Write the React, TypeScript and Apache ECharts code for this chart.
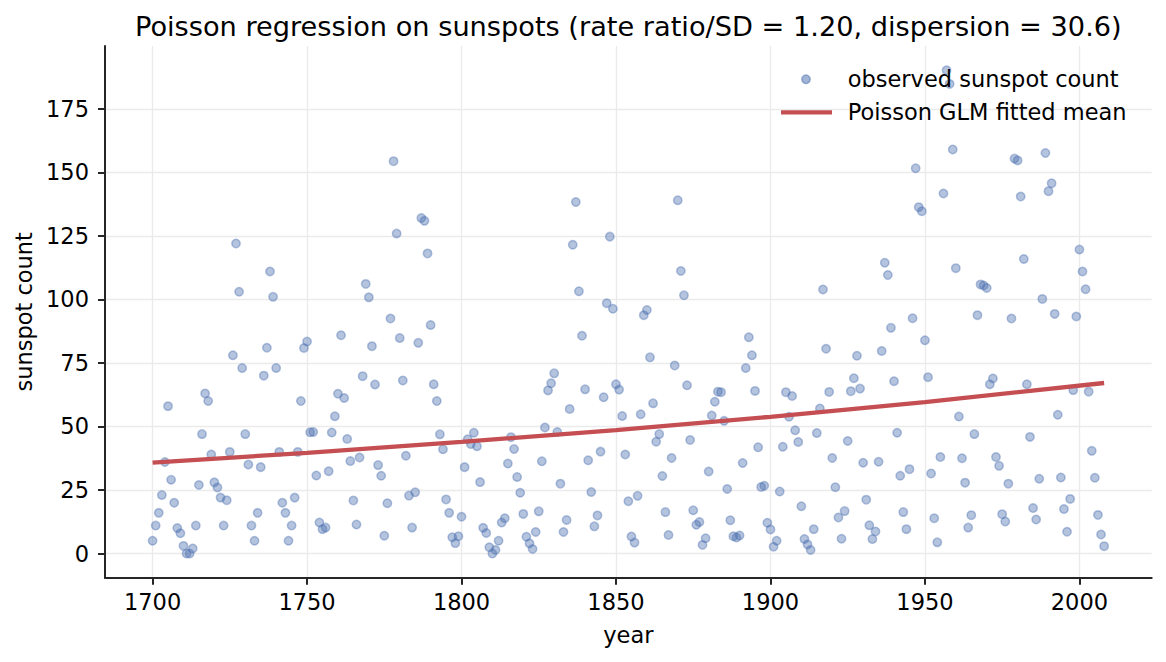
import React, { useEffect, useRef } from "react";
import * as echarts from "echarts";

// Yearly mean sunspot numbers, one array per century (first year listed alongside)
const FIRST_YEAR = 1700;
const counts1700s = [
  5, 11, 16, 23, 36, 58, 29, 20, 10, 8, 3, 0, 0, 2, 11, 27, 47, 63, 60, 39,
  28, 26, 22, 11, 21, 40, 78, 122, 103, 73, 47, 35, 11, 5, 16, 34, 70, 81, 111, 101,
  73, 40, 20, 16, 5, 11, 22, 40, 60, 80.9, 83.4, 47.7, 47.8, 30.7, 12.2, 9.6, 10.2, 32.4, 47.6, 54,
  62.9, 85.9, 61.2, 45.1, 36.4, 20.9, 11.4, 37.8, 69.8, 106.1, 100.8, 81.6, 66.5, 34.8, 30.6, 7, 19.8, 92.5, 154.4, 125.9,
  84.8, 68.1, 38.5, 22.8, 10.2, 24.1, 82.9, 132, 130.9, 118.1, 89.9, 66.6, 60, 46.9, 41, 21.3, 16, 6.4, 4.1, 6.8,
];
const counts1800s = [
  14.5, 34, 45, 43.1, 47.5, 42.2, 28.1, 10.1, 8.1, 2.5, 0, 1.4, 5, 12.2, 13.9, 35.4, 45.8, 41.1, 30.1, 23.9,
  15.6, 6.6, 4, 1.8, 8.5, 16.6, 36.3, 49.6, 64.2, 67, 70.9, 47.8, 27.5, 8.5, 13.2, 56.9, 121.5, 138.3, 103.2, 85.7,
  64.6, 36.7, 24.2, 10.7, 15, 40.1, 61.5, 98.5, 124.7, 96.3, 66.6, 64.5, 54.1, 39, 20.6, 6.7, 4.3, 22.7, 54.8, 93.8,
  95.8, 77.2, 59.1, 44, 47, 30.5, 16.3, 7.3, 37.6, 74, 139, 111.2, 101.6, 66.2, 44.7, 17, 11.3, 12.4, 3.4, 6,
  32.3, 54.3, 59.7, 63.7, 63.5, 52.2, 25.4, 13.1, 6.8, 6.3, 7.1, 35.6, 73, 85.1, 78, 64, 41.8, 26.2, 26.7, 12.1,
];
const counts1900s = [
  9.5, 2.7, 5, 24.4, 42, 63.5, 53.8, 62, 48.5, 43.9, 18.6, 5.7, 3.6, 1.4, 9.6, 47.4, 57.1, 103.9, 80.6, 63.6,
  37.6, 26.1, 14.2, 5.8, 16.7, 44.3, 63.9, 69, 77.8, 64.9, 35.7, 21.2, 11.1, 5.7, 8.7, 36.1, 79.7, 114.4, 109.6, 88.8,
  67.8, 47.5, 30.6, 16.3, 9.6, 33.2, 92.6, 151.6, 136.3, 134.7, 83.9, 69.4, 31.5, 13.9, 4.4, 38, 141.7, 190.2, 184.8, 159,
  112.3, 53.9, 37.5, 27.9, 10.2, 15.1, 47, 93.8, 105.9, 105.5, 104.5, 66.6, 68.9, 38, 34.5, 15.5, 12.6, 27.5, 92.5, 155.4,
  154.7, 140.5, 115.9, 66.6, 45.9, 17.9, 13.4, 29.4, 100.2, 157.6, 142.6, 145.7, 94.3, 54.6, 29.9, 17.5, 8.6, 21.5, 64.3, 93.3,
];
const counts2000s = [119.6, 111, 104, 63.7, 40.4, 29.8, 15.2, 7.5, 2.9];

// Poisson GLM fitted mean at selected years
const fittedYears = [1700, 1750, 1800, 1850, 1900, 1950, 2008];
const fittedMean = [35.8, 39.6, 43.9, 48.6, 53.8, 59.6, 67.1];

// Axis ticks
const xTicks = [1700, 1750, 1800, 1850, 1900, 1950, 2000];
const yTicks = [0, 25, 50, 75, 100, 125, 150, 175];

const TITLE = "Poisson regression on sunspots (rate ratio/SD = 1.20, dispersion = 30.6)";
const FONT = "'DejaVu Sans', 'Liberation Sans', sans-serif";
const POINT_COLOR = "rgba(76,114,176,0.52)";
const LINE_COLOR = "#C44E52";
const AXIS_COLOR = "#262626";
const GRID_COLOR = "#ebebeb";

export default function App() {
  const ref = useRef<HTMLDivElement>(null);

  useEffect(() => {
    document.body.style.margin = "0";
    if (!ref.current) return;
    const chart = echarts.init(ref.current, undefined, { renderer: "svg" });

    const counts = [...counts1700s, ...counts1800s, ...counts1900s, ...counts2000s];
    const observed = counts.map((v, i) => [FIRST_YEAR + i, v]);
    const fitted = fittedYears.map((y, i) => [y, fittedMean[i]]);

    const xMin = 1684.6;
    const xMax = 2023.4;
    const yMin = -9.51;
    const yMax = 199.71;

    const plotLeft = 105;
    const plotRight = 14.3;

    chart.setOption({
      animation: false,
      backgroundColor: "#ffffff",
      textStyle: { fontFamily: FONT },
      title: {
        text: TITLE,
        left: 130,
        top: 8,
        textStyle: {
          fontFamily: FONT,
          fontSize: 27.2,
          fontWeight: "normal",
          color: "#000000",
        },
      },
      grid: { left: plotLeft, right: plotRight, top: 46, bottom: 84.3, containLabel: false },
      xAxis: {
        type: "value",
        min: xMin,
        max: xMax,
        name: "year",
        nameLocation: "middle",
        nameGap: 46,
        nameTextStyle: { fontFamily: FONT, fontSize: 22.5, color: "#000000" },
        axisLine: { onZero: false, lineStyle: { color: AXIS_COLOR, width: 2 } },
        axisTick: {
          show: true,
          length: 7,
          customValues: xTicks,
          lineStyle: { color: AXIS_COLOR, width: 2 },
        },
        axisLabel: {
          customValues: xTicks,
          margin: 13,
          fontFamily: FONT,
          fontSize: 22.5,
          color: "#000000",
          formatter: (v: number) => String(v),
        },
        splitLine: { show: true, lineStyle: { color: GRID_COLOR, width: 1.4 } },
      },
      yAxis: {
        type: "value",
        min: yMin,
        max: yMax,
        name: "sunspot count",
        nameLocation: "middle",
        nameRotate: 90,
        nameGap: 70,
        nameTextStyle: { fontFamily: FONT, fontSize: 22.5, color: "#000000" },
        axisLine: { show: true, onZero: false, lineStyle: { color: AXIS_COLOR, width: 2 } },
        axisTick: {
          show: true,
          length: 7,
          customValues: yTicks,
          lineStyle: { color: AXIS_COLOR, width: 2 },
        },
        axisLabel: {
          customValues: yTicks,
          margin: 16,
          fontFamily: FONT,
          fontSize: 22.5,
          color: "#000000",
          formatter: (v: number) => String(v),
        },
        splitLine: { show: true, lineStyle: { color: GRID_COLOR, width: 1.4 } },
      },
      series: [
        {
          name: "observed sunspot count",
          type: "scatter",
          data: observed,
          symbol: "circle",
          symbolSize: 8.4,
          itemStyle: {
            color: POINT_COLOR,
            borderColor: POINT_COLOR,
            borderWidth: 1.5,
          },
          z: 2,
        },
        {
          name: "Poisson GLM fitted mean",
          type: "line",
          data: fitted,
          showSymbol: false,
          symbol: "none",
          lineStyle: { color: LINE_COLOR, width: 4.3, cap: "butt" },
          z: 3,
        },
      ],
      graphic: [
        {
          type: "circle",
          shape: { cx: 806, cy: 79.3, r: 4.2 },
          style: { fill: POINT_COLOR, stroke: POINT_COLOR, lineWidth: 1.5 },
          z: 10,
        },
        {
          type: "text",
          x: 847.7,
          y: 79.3,
          style: {
            text: "observed sunspot count",
            font: `22.5px ${FONT}`,
            fill: "#000000",
            textVerticalAlign: "middle",
            verticalAlign: "middle",
          },
          z: 10,
        },
        {
          type: "line",
          shape: { x1: 781, y1: 112.3, x2: 832, y2: 112.3 },
          style: { stroke: LINE_COLOR, lineWidth: 4.3 },
          z: 10,
        },
        {
          type: "text",
          x: 847.7,
          y: 112.3,
          style: {
            text: "Poisson GLM fitted mean",
            font: `22.5px ${FONT}`,
            fill: "#000000",
            textVerticalAlign: "middle",
            verticalAlign: "middle",
          },
          z: 10,
        },
      ],
    });

    return () => chart.dispose();
  }, []);

  return (
    <div
      ref={ref}
      style={{ position: "absolute", left: 0, top: 0, width: 1166, height: 662 }}
    />
  );
}
